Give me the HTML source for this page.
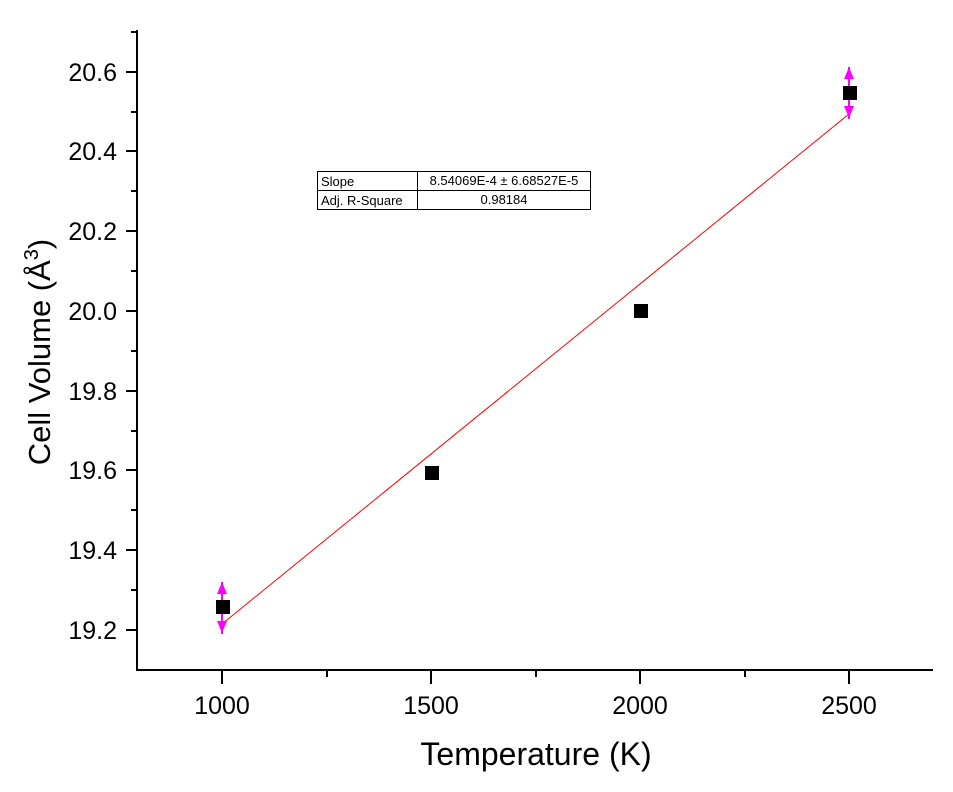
<!DOCTYPE html><html><head><style>body{margin:0;background:#fff}svg{display:block}</style></head><body>
<svg width="953" height="792" xmlns="http://www.w3.org/2000/svg" font-family="Liberation Sans, Arial, sans-serif">
<rect width="953" height="792" fill="#fff"/>
<g stroke="#000" stroke-width="2" fill="none">
<line x1="137" y1="30" x2="137" y2="671"/>
<line x1="136" y1="670" x2="933" y2="670"/>
<path d="M126 630H137M126 550H137M126 470H137M126 391H137M126 311H137M126 231H137M126 151H137M126 72H137"/>
<path d="M131 590H137M131 510H137M131 431H137M131 351H137M131 271H137M131 191H137M131 112H137M131 32H137"/>
<path d="M222 670V684M431 670V684M640 670V684M849 670V684"/>
<path d="M327 670V677M536 670V677M745 670V677"/>
</g>
<g font-size="25" fill="#000" text-anchor="end">
<text x="117" y="639">19.2</text><text x="117" y="559">19.4</text><text x="117" y="479">19.6</text><text x="117" y="400">19.8</text><text x="117" y="320">20.0</text><text x="117" y="240">20.2</text><text x="117" y="160">20.4</text><text x="117" y="81">20.6</text>
</g>
<g font-size="25" fill="#000" text-anchor="middle">
<text x="222" y="714">1000</text><text x="431" y="714">1500</text><text x="640" y="714">2000</text><text x="849" y="714">2500</text>
<text x="536" y="765" font-size="32">Temperature (K)</text>
</g>
<text transform="translate(50,352) rotate(-90)" font-size="31" text-anchor="middle">Cell Volume (Å<tspan font-size="20" dy="-12">3</tspan><tspan dy="12">)</tspan></text>
<line x1="222" y1="624" x2="849" y2="114" stroke="#f00" stroke-width="1"/>
<g stroke="#f0f" stroke-width="2"><line x1="222" y1="582" x2="222" y2="634"/><line x1="849" y1="67" x2="849" y2="119"/></g>
<g fill="#f0f"><path d="M217 594L222 582L227 594Z"/><path d="M217 621L222 633L227 621Z"/><path d="M844 79L849 67L854 79Z"/><path d="M844 106L849 118L854 106Z"/></g>
<g fill="#000"><rect x="216" y="600" width="14" height="14"/><rect x="425" y="466" width="14" height="14"/><rect x="634" y="304" width="14" height="14"/><rect x="843" y="86" width="14" height="14"/></g>
<g stroke="#000" stroke-width="1" fill="none"><rect x="317.5" y="171.5" width="273" height="38"/><line x1="317" y1="190.5" x2="590" y2="190.5"/><line x1="417.5" y1="171" x2="417.5" y2="210"/></g>
<g font-size="13" fill="#000"><text x="321" y="186">Slope</text><text x="321" y="205">Adj. R-Square</text>
<text x="504" y="185" text-anchor="middle">8.54069E-4 ± 6.68527E-5</text><text x="504" y="204" text-anchor="middle">0.98184</text></g>
</svg></body></html>
